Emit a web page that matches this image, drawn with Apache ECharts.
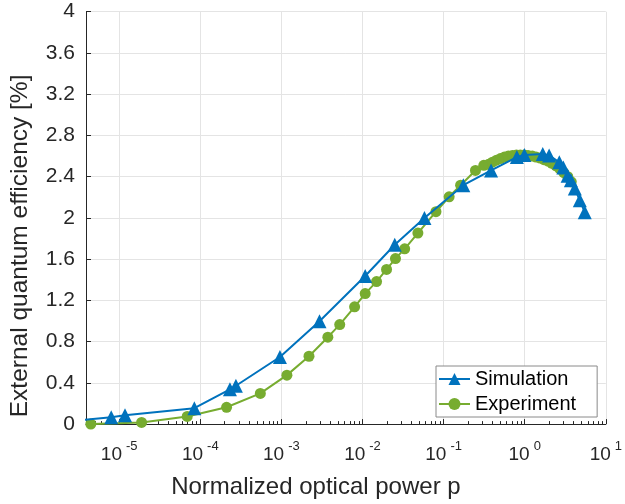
<!DOCTYPE html>
<html><head><meta charset="utf-8">
<script src="https://cdn.jsdelivr.net/npm/echarts@6/dist/echarts.min.js"></script>
<style>html,body{margin:0;padding:0;background:#fff}#c{width:625px;height:504px}</style>
</head><body><div id="c"></div>
<script>
// Simulation (blue triangles)
const simP   = [3e-6, 7.98e-6, 1.18e-5, 8.45e-5, 2.32e-4, 2.75e-4, 9.6e-4, 2.95e-3, 1.08e-2, 2.5e-2, 5.8e-2, 0.175, 0.385, 0.80, 0.99, 1.67, 2.0, 2.67, 2.99, 3.38, 3.71, 4.15, 4.78, 5.5];
const simEQE = [0.035, 0.067, 0.085, 0.154, 0.337, 0.372, 0.651, 0.997, 1.437, 1.74, 2.00, 2.317, 2.46, 2.59, 2.61, 2.62, 2.606, 2.54, 2.49, 2.41, 2.365, 2.285, 2.17, 2.055];
// Experiment (green circles)
const expP   = [4.47e-6, 1.89e-5, 6.9e-5, 2.11e-4, 5.5e-4, 1.17e-3, 2.19e-3, 3.74e-3, 5.24e-3, 7.99e-3, 1.08e-2, 1.49e-2, 1.98e-2, 2.55e-2, 3.31e-2, 4.82e-2, 8.05e-2, 0.117, 0.162, 0.247, 0.313,
                0.359, 0.40, 0.449, 0.502, 0.562, 0.629, 0.704, 0.789, 0.882, 0.987, 1.10, 1.24, 1.38, 1.55, 1.73, 1.94, 2.17, 2.43, 2.71, 3.03, 3.40, 3.75];
const expEQE = [0.0, 0.016, 0.074, 0.163, 0.298, 0.475, 0.658, 0.843, 0.965, 1.138, 1.266, 1.382, 1.50, 1.606, 1.70, 1.853, 2.06, 2.205, 2.317, 2.46, 2.51,
                2.52, 2.54, 2.56, 2.575, 2.59, 2.60, 2.605, 2.61, 2.61, 2.61, 2.605, 2.60, 2.59, 2.58, 2.565, 2.55, 2.53, 2.505, 2.475, 2.44, 2.40, 2.35];
// Axis ticks
const xMajorTicks = [1e-5, 1e-4, 1e-3, 1e-2, 1e-1, 1e0, 1e1];
const xMinorTicks = [4e-6,5e-6,6e-6,7e-6,8e-6,9e-6,
  2e-5,3e-5,4e-5,5e-5,6e-5,7e-5,8e-5,9e-5,
  2e-4,3e-4,4e-4,5e-4,6e-4,7e-4,8e-4,9e-4,
  2e-3,3e-3,4e-3,5e-3,6e-3,7e-3,8e-3,9e-3,
  2e-2,3e-2,4e-2,5e-2,6e-2,7e-2,8e-2,9e-2,
  0.2,0.3,0.4,0.5,0.6,0.7,0.8,0.9,
  2,3,4,5,6,7,8,9];
const xMin = 3.9e-6, xMax = 10;
const yMin = 0, yMax = 4, yStep = 0.4;

const FONT = '"Liberation Sans", Arial, Helvetica, sans-serif';
const TXT = '#262626';
const GRID = '#e4e4e4';

const chart = echarts.init(document.getElementById('c'), null, {renderer: 'canvas'});
chart.setOption({
  animation: false,
  backgroundColor: '#fff',
  grid: {left: 81, right: 18.3, top: 11.7, bottom: 76.3, containLabel: false},
  legend: {
    orient: 'vertical', left: 436, top: 366,
    padding: [3, 21, 3, 2], itemGap: 5, itemWidth: 31, itemHeight: 15,
    backgroundColor: '#fff', borderColor: '#8a8a8a', borderWidth: 1, borderRadius: 0,
    textStyle: {fontFamily: FONT, fontSize: 20, color: '#000'},
    data: ['Simulation', 'Experiment']
  },
  xAxis: [{
    type: 'log', logBase: 10, min: xMin, max: xMax,
    name: 'Normalized optical power p', nameLocation: 'middle', nameGap: 46,
    nameTextStyle: {fontFamily: FONT, fontSize: 24, color: TXT, padding: [0, 60, 0, 0]},
    axisLine: {show: true, onZero: false, lineStyle: {color: TXT, width: 1}},
    axisTick: {show: true, inside: true, length: 5, customValues: xMajorTicks, lineStyle: {color: TXT}},
    splitLine: {show: true, lineStyle: {color: GRID, width: 1}},
    axisLabel: {
      customValues: xMajorTicks, margin: 15,
      formatter: function (v) { return '{b|10}{s|' + Math.round(Math.log10(v)) + '}'; },
      rich: {
        b: {fontFamily: FONT, fontSize: 19, color: TXT, lineHeight: 32},
        s: {fontFamily: FONT, fontSize: 13, color: TXT, lineHeight: 14, padding: [0, 0, 17, 4]}
      }
    }
  }, {
    type: 'log', logBase: 10, min: xMin, max: xMax, position: 'bottom',
    axisLine: {show: false}, axisLabel: {show: false}, splitLine: {show: false},
    axisTick: {show: true, inside: true, length: 3, customValues: xMinorTicks, lineStyle: {color: TXT}}
  }],
  yAxis: {
    type: 'value', min: yMin, max: yMax, interval: yStep,
    name: 'External quantum efficiency [%]', nameLocation: 'middle', nameGap: 53,
    nameTextStyle: {fontFamily: FONT, fontSize: 24.5, color: TXT, padding: [0, 56, 0, 0]},
    axisLine: {show: true, lineStyle: {color: TXT, width: 1}},
    axisTick: {show: true, inside: true, length: 5, lineStyle: {color: TXT}},
    splitLine: {show: true, lineStyle: {color: GRID, width: 1}},
    axisLabel: {fontFamily: FONT, fontSize: 21, color: TXT, margin: 11}
  },
  series: [{
    name: 'Simulation', type: 'line', xAxisIndex: 0,
    data: simP.map((p, i) => [p, simEQE[i]]),
    symbol: 'triangle', symbolSize: 14, showAllSymbol: true,
    lineStyle: {color: '#0072BD', width: 2},
    itemStyle: {color: '#0072BD'},
    clip: true, z: 3
  }, {
    name: 'Experiment', type: 'line', xAxisIndex: 0,
    data: expP.map((p, i) => [p, expEQE[i]]),
    symbol: 'circle', symbolSize: 11, showAllSymbol: true,
    lineStyle: {color: '#77AC30', width: 2},
    itemStyle: {color: '#77AC30'},
    clip: true, z: 2
  }]
});
</script>
</body></html>
